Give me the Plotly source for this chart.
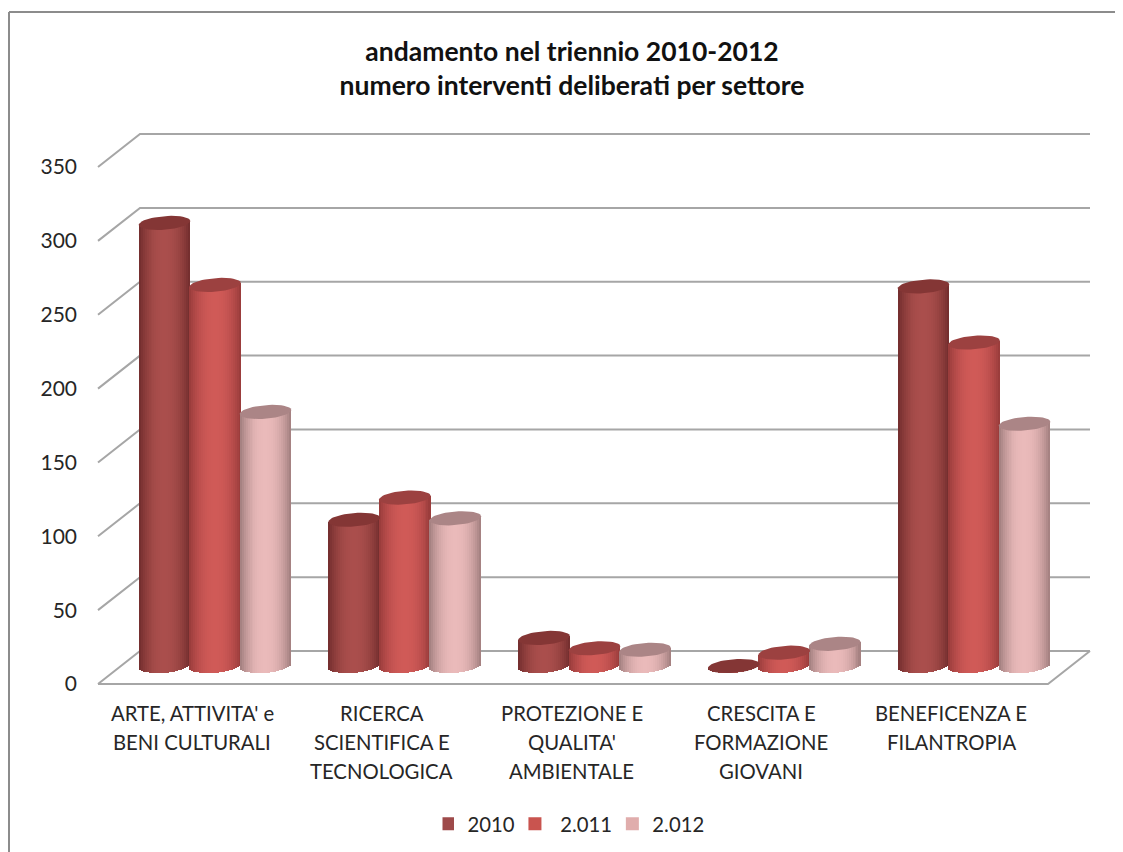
import math
import plotly.graph_objects as go

# The page sets the plot 8 px in from the window's corner, so reference pixel
# positions are converted with OFF.
OFF = 8
W, H = 1123 - OFF, 852 - OFF
category_lines = [
    ["ARTE, ATTIVITA' e", "BENI CULTURALI"],
    ["RICERCA", "SCIENTIFICA E", "TECNOLOGICA"],
    ["PROTEZIONE E", "QUALITA'", "AMBIENTALE"],
    ["CRESCITA E", "FORMAZIONE", "GIOVANI"],
    ["BENEFICENZA E", "FILANTROPIA"],
]
series_names = ["2010\u00a0\u00a0", "\u00a02.011\u00a0\u00a0", "2.012"]
values_2010 = [300, 99, 19, 0, 257]
values_2011 = [258, 114, 12, 9, 219]
values_2012 = [172, 100, 11, 15, 164]
y_ticks = [0, 50, 100, 150, 200, 250, 300, 350]

series_values = [values_2010, values_2011, values_2012]
edge_colors = [(112, 44, 44), (150, 58, 58), (160, 125, 125)]
mid_colors = [(170, 78, 76), (208, 90, 87), (234, 186, 186)]
top_colors = ["#843635", "#9c4140", "#ab8586"]
swatch_colors = ["#9e4a4a", "#c9544f", "#e0adac"]
GRID = "#a6a6a6"
TEXT = "#262626"
FONT = "Lato"

# pixel scales of the pseudo-3D view (window pixels)
PX_PER_CAT = 189.75
CAT0_PX = 215
PX_PER_UNIT = 1.477
ZERO_PX = 666
FRONT_ZERO_PX = 684
BACK_ZERO_PX = 651
STEP_PX = 50.5
RADIUS_PX = 25.8
ELL_B_PX = 6.8
ELL_TILT_PX = 2.0
STRIPS = 26
LABEL_SHIFT_PX = -23


def cat_of(px):
    return (px - CAT0_PX) / PX_PER_CAT


def paper_x(px):
    return (px - OFF) / W


def paper_y(px):
    return 1 - (px - OFF) / H


def mix(a, b, f):
    return "rgb(%d,%d,%d)" % tuple(round(a[i] + (b[i] - a[i]) * f) for i in range(3))


fig = go.Figure()

# walls and floor sit below all traces
front_off = (ZERO_PX - FRONT_ZERO_PX) / PX_PER_UNIT
back_off = (ZERO_PX - BACK_ZERO_PX) / PX_PER_UNIT
grid_shapes = []
for v in y_ticks:
    grid_shapes.append(dict(
        type="path", xref="x", yref="y", layer="below",
        path="M %f %f L %f %f L %f %f" % (cat_of(98), v + front_off, cat_of(140), v + back_off,
                                          cat_of(1090), v + back_off),
        line=dict(color=GRID, width=2)))
grid_shapes.append(dict(
    type="path", xref="x", yref="y", layer="below",
    path="M %f %f L %f %f L %f %f" % (cat_of(98), front_off, cat_of(1048), front_off,
                                      cat_of(1090), back_off),
    line=dict(color=GRID, width=2)))

# cylinders: vertical strips with a shading gradient
strip_w = 2 * RADIUS_PX / STRIPS / PX_PER_CAT
for s, vals in enumerate(series_values):
    dx = (s - 1) * STEP_PX / PX_PER_CAT
    for k in range(STRIPS):
        t = -1 + (k + 0.5) * 2 / STRIPS
        f = 1 - abs(t) ** 2.2
        off = math.sqrt(max(0, 1 - t * t)) * ELL_B_PX / PX_PER_UNIT
        tilt = t * ELL_TILT_PX / PX_PER_UNIT
        bases = [tilt - off for _ in vals]
        fig.add_trace(go.Bar(
            x=[i + dx + t * RADIUS_PX / PX_PER_CAT for i in range(len(vals))],
            y=[v - b + tilt for v, b in zip(vals, bases)],
            base=bases,
            width=strip_w * 1.1,
            marker=dict(color=mix(edge_colors[s], mid_colors[s], f), line=dict(width=0)),
            showlegend=False, hoverinfo="skip"))

# top caps
n = 48
for s, vals in enumerate(series_values):
    dx = (s - 1) * STEP_PX / PX_PER_CAT
    for i, v in enumerate(vals):
        xs, ys = [], []
        for j in range(n + 1):
            a = 2 * math.pi * j / n
            xs.append(i + dx + math.cos(a) * RADIUS_PX / PX_PER_CAT)
            ys.append(v + (math.sin(a) * ELL_B_PX + math.cos(a) * ELL_TILT_PX) / PX_PER_UNIT)
        fig.add_trace(go.Scatter(
            x=xs, y=ys, mode="lines", fill="toself", fillcolor=top_colors[s],
            line=dict(width=0, color=top_colors[s]), showlegend=False, hoverinfo="skip"))

# legend entries
for name, col in zip(series_names, swatch_colors):
    fig.add_trace(go.Scatter(
        x=[None], y=[None], mode="markers", name=name,
        marker=dict(symbol="square", size=13, color=col)))
# carries the value axis labels on the front plane
fig.add_trace(go.Scatter(x=[None], y=[None], yaxis="y2", showlegend=False, hoverinfo="skip"))

# category labels
annotations = []
for i, lines in enumerate(category_lines):
    for j, line in enumerate(lines):
        annotations.append(dict(
            x=i + LABEL_SHIFT_PX / PX_PER_CAT, xref="x",
            y=paper_y(713 + 29.2 * j), yref="paper", text=line,
            showarrow=False, xanchor="center", yanchor="middle",
            font=dict(family=FONT, size=20.3, color=TEXT)))

frame = [
    dict(type="line", xref="paper", yref="paper", x0=paper_x(9), x1=paper_x(9), y0=0, y1=paper_y(12),
         line=dict(color="#8c8c8c", width=2)),
    dict(type="line", xref="paper", yref="paper", x0=paper_x(9), x1=1, y0=paper_y(12), y1=paper_y(12),
         line=dict(color="#8c8c8c", width=2)),
]

fig.update_layout(
    width=W, height=H, autosize=False,
    margin=dict(l=0, r=0, t=0, b=0),
    paper_bgcolor="white", plot_bgcolor="rgba(0,0,0,0)",
    barmode="overlay", bargap=0,
    font=dict(family=FONT, color=TEXT),
    title=dict(
        text="<b>andamento nel triennio 2010-2012<br>numero interventi deliberati per settore</b>",
        x=paper_x(572), xanchor="center", y=paper_y(61), yanchor="middle",
        font=dict(family=FONT, size=26.5, color="#111111")),
    xaxis=dict(range=[cat_of(OFF), cat_of(1123)], visible=False, fixedrange=True),
    yaxis=dict(range=[(ZERO_PX - 852) / PX_PER_UNIT, (ZERO_PX - OFF) / PX_PER_UNIT],
               visible=False, fixedrange=True),
    yaxis2=dict(
        range=[(684 - 852) / PX_PER_UNIT, (684 - OFF) / PX_PER_UNIT],
        overlaying="y", anchor="free", position=paper_x(77), side="left",
        tickvals=y_ticks, showgrid=False, zeroline=False, showline=False, ticks="",
        tickfont=dict(family=FONT, size=21, color=TEXT), fixedrange=True),
    legend=dict(orientation="h", x=paper_x(442.5), y=paper_y(824), xanchor="left", yanchor="middle",
                font=dict(family=FONT, size=20.3, color=TEXT), itemwidth=30, indentation=-15,
                bgcolor="rgba(0,0,0,0)"),
    annotations=annotations,
    shapes=grid_shapes + frame,
)
fig.write_html("out.html")
